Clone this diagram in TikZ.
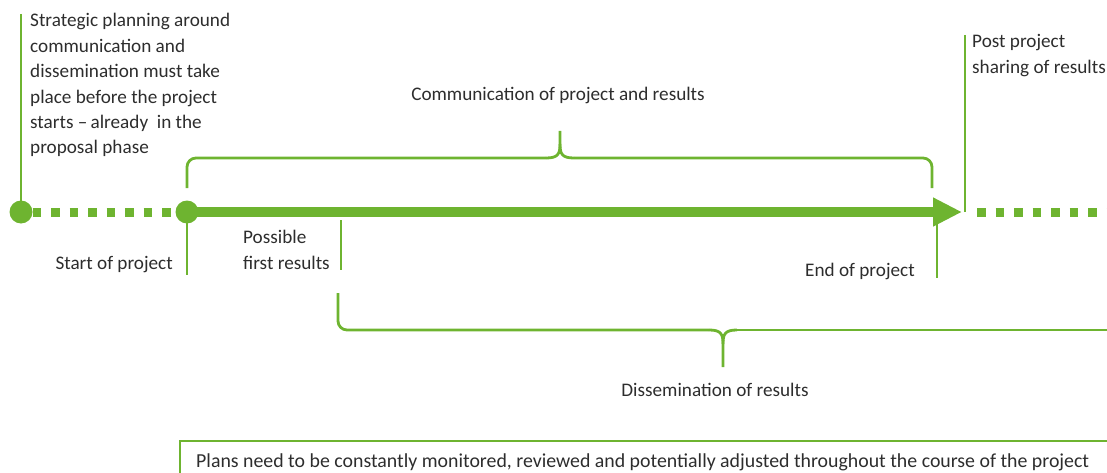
\documentclass[tikz,border=0pt]{standalone}
\usepackage{fontspec}
\setmainfont{Carlito}
\usetikzlibrary{arrows.meta}
\definecolor{grn}{RGB}{110,180,48}
\definecolor{txt}{RGB}{45,45,45}
\tikzset{
  lbl/.style={inner sep=0pt, text=txt, font=\fontsize{19.2}{25.4}\selectfont, align=left},
  thin/.style={draw=grn, line width=1.5pt},
  brace/.style={draw=grn, line width=2.8pt},
  dots/.style={draw=grn, line width=9pt, dash pattern=on 8.5pt off 10pt},
  dot/.style={circle, fill=grn, inner sep=0pt, minimum size=23pt}
}
\begin{document}
\begin{tikzpicture}[x=1pt,y=-1pt]
\useasboundingbox (0,0) rectangle (1107,473);
% dots and main line
\node[dot] (d1) at (21,212) {};
\node[dot] (d2) at (187,212) {};
\coordinate (tip) at (962,212);
\coordinate (dE) at (1107,212);
\coordinate (d1top) at (21,14);
\coordinate (posttop) at (965,35);
\coordinate (postbot) at (965,212);
\draw[dots] (d1.east) -- (d2.west);
\draw[dots] (977,212) -- (dE);
\draw[grn, line width=10pt, -{Triangle[length=29pt,width=27pt]}] (d2.center) -- (tip);
\draw[thin] (d1top) -- (d1.center);
\draw[thin] (posttop) -- (postbot);
% vertical markers below line
\coordinate (s1) at (187,275);
\coordinate (p1) at (341,220);
\coordinate (p2) at (341,270);
\coordinate (e1) at (937,222);
\coordinate (e2) at (937,278);
\draw[thin] (d2.center) -- (s1);
\draw[thin] (p1) -- (p2);
\draw[thin] (e1) -- (e2);
% upper brace
\draw[brace, rounded corners=9pt] (187,188) -- (187,158) -- (546,158);
\draw[brace] (546,158) .. controls (558,158) and (560,154) .. (560,144) -- (560,131);
\draw[brace] (574,158) .. controls (562,158) and (560,154) .. (560,144);
\draw[brace, rounded corners=9pt] (574,158) -- (932,158) -- (932,188);
% lower brace
\draw[brace, rounded corners=9pt] (338,293) -- (338,330) -- (709,330);
\draw[brace] (709,330) .. controls (721,330) and (723,334) .. (723,344) -- (723,367);
\draw[brace] (737,330) .. controls (725,330) and (723,334) .. (723,344);
\draw[brace] (737,330) -- (1107,330);
% bottom box
\draw[thin] (180,473) -- (180,441) -- (1107,441);
% labels (base anchor of multi-line nodes = last line)
\node[lbl, anchor=base west] (t1) at (30,154) {Strategic planning around\\communication and\\dissemination must take\\place before the project\\starts –\,already~ in the\\proposal phase};
\node[lbl, anchor=base] (comm) at (558,101) {Communication of project and results};
\node[lbl, anchor=base east] (start) at (173,269) {Start of project};
\node[lbl, anchor=base west] (poss) at (243,269) {Possible\\first results};
\node[lbl, anchor=base west] (end) at (805,276) {End of project};
\node[lbl, anchor=base west] (post) at (972,73.4) {Post project\\sharing of results};
\node[lbl, anchor=base] (diss) at (715,396) {Dissemination of results};
\node[lbl, anchor=base west] (plans) at (196,467) {\resizebox{893pt}{!}{Plans need to be constantly monitored, reviewed and potentially adjusted throughout the course of the project}};
\end{tikzpicture}
\end{document}
